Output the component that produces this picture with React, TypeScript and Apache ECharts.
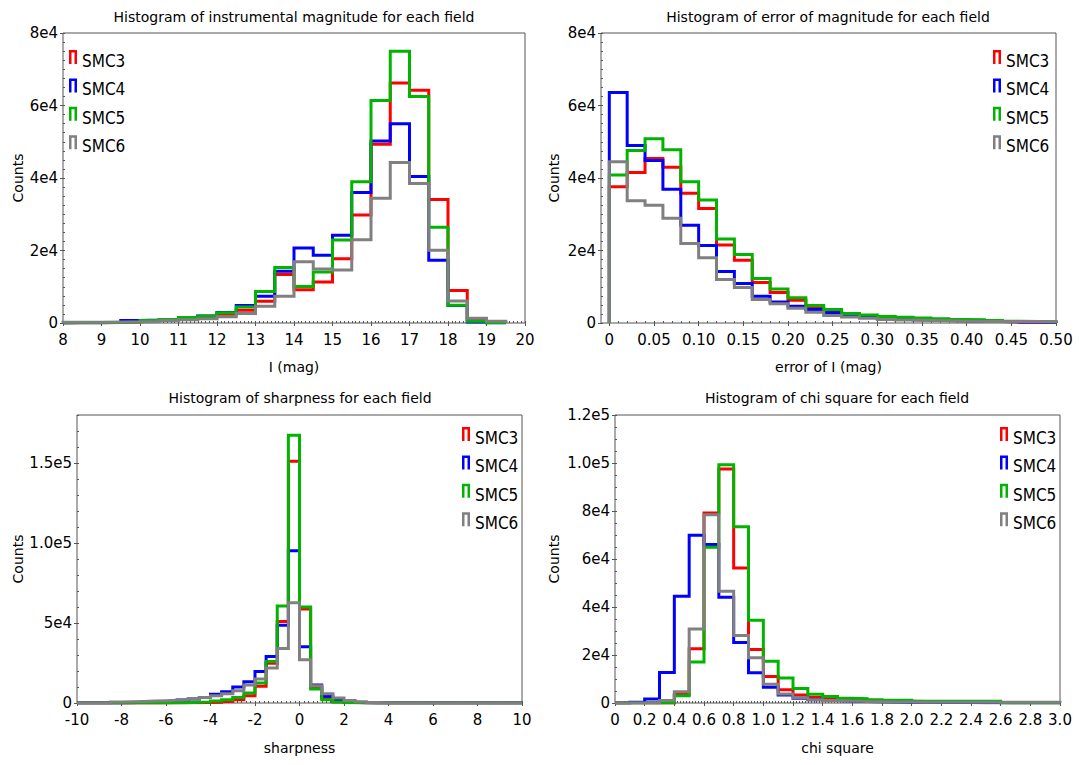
import React, { useEffect, useRef } from "react";
import * as echarts from "echarts";

// ---------- shared ----------
const SERIES_NAMES = ["SMC3", "SMC4", "SMC5", "SMC6"];
const SERIES_COLORS = ["#ff0000", "#0000ff", "#00b400", "#808080"];

// ---------- panel 1: instrumental magnitude ----------
const magBinStart = 8;
const magBinWidth = 0.5;
const magSMC3 = [100, 100, 150, 250, 500, 800, 1200, 1700, 2400, 3500, 6000, 13400, 9200, 11300, 17700, 29800, 49300, 66200, 64200, 34100, 9000, 1100, 200];
const magSMC4 = [100, 100, 200, 700, 800, 1000, 1400, 1900, 2900, 4800, 7400, 14300, 20700, 18700, 24200, 36000, 50200, 55000, 40400, 17300, 4800, 300, 100];
const magSMC5 = [100, 100, 150, 300, 700, 1000, 1500, 1900, 2800, 4400, 8700, 15300, 10100, 14100, 22900, 39000, 61400, 75000, 62500, 26400, 4900, 500, 0];
const magSMC6 = [200, 200, 250, 300, 400, 700, 900, 1200, 1700, 2600, 4600, 7400, 16900, 14900, 14600, 23000, 34400, 44300, 38500, 20100, 6100, 1300, 500];
const magXTicks = [8, 9, 10, 11, 12, 13, 14, 15, 16, 17, 18, 19, 20];
const magXLabels = ["8", "9", "10", "11", "12", "13", "14", "15", "16", "17", "18", "19", "20"];
const magYTicks = [0, 20000, 40000, 60000, 80000];
const magYLabels = ["0", "2e4", "4e4", "6e4", "8e4"];

// ---------- panel 2: error of magnitude ----------
const errBinStart = 0;
const errBinWidth = 0.02;
const errSMC3 = [37600, 41500, 45400, 43000, 35800, 31600, 21500, 17300, 11200, 8400, 6300, 4100, 2900, 2300, 1800, 1400, 1100, 900, 700, 600, 500, 400, 300, 300, 200];
const errSMC4 = [63600, 49000, 44800, 36900, 27000, 21400, 14200, 10900, 7400, 5800, 4600, 3700, 2800, 2100, 1700, 1400, 1100, 900, 700, 600, 500, 400, 300, 300, 200];
const errSMC5 = [40800, 47600, 50800, 47800, 39000, 33900, 23200, 18900, 12300, 9400, 7000, 4800, 3700, 2600, 2200, 1800, 1600, 1400, 1200, 1000, 900, 700, 500, 400, 300];
const errSMC6 = [44500, 33700, 32500, 28900, 21900, 18000, 12000, 9800, 6500, 5300, 4100, 3000, 2100, 1650, 1300, 1000, 800, 700, 600, 500, 400, 400, 400, 400, 400];
const errXTicks = [0, 0.05, 0.1, 0.15, 0.2, 0.25, 0.3, 0.35, 0.4, 0.45, 0.5];
const errXLabels = ["0", "0.05", "0.10", "0.15", "0.20", "0.25", "0.30", "0.35", "0.40", "0.45", "0.50"];
const errYTicks = [0, 20000, 40000, 60000, 80000];
const errYLabels = ["0", "2e4", "4e4", "6e4", "8e4"];

// ---------- panel 3: sharpness ----------
const shpBinStart = -10;
const shpBinWidth = 0.5;
const shpSMC3 = [0, 0, 0, 0, 0, 0, 0, 0, 100, 100, 200, 300, 500, 1000, 2100, 4600, 10400, 24900, 50900, 151100, 58800, 10000, 3000, 800, 300, 100, 0, 0, 0, 0, 0, 0, 0, 0, 0, 0, 0, 0, 0, 0];
const shpSMC4 = [0, 0, 0, 0, 200, 400, 600, 900, 1300, 1800, 2500, 3500, 5400, 7100, 10000, 13300, 19700, 29100, 48600, 95100, 35100, 11200, 4200, 1500, 500, 200, 0, 0, 0, 0, 0, 0, 0, 0, 0, 0, 0, 0, 0, 0];
const shpSMC5 = [0, 0, 0, 0, 0, 0, 0, 0, 0, 200, 400, 700, 1200, 2100, 3500, 6200, 12500, 26000, 60600, 167300, 60000, 8700, 2100, 700, 200, 0, 0, 0, 0, 0, 0, 0, 0, 0, 0, 0, 0, 0, 0, 0];
const shpSMC6 = [0, 0, 0, 600, 800, 1000, 1200, 1400, 1700, 2100, 2700, 3500, 4600, 5800, 7700, 11200, 15000, 21800, 34000, 62700, 27000, 10800, 5800, 3100, 1500, 800, 300, 0, 0, 0, 0, 0, 0, 0, 0, 0, 0, 0, 0, 0];
const shpXTicks = [-10, -8, -6, -4, -2, 0, 2, 4, 6, 8, 10];
const shpXLabels = ["-10", "-8", "-6", "-4", "-2", "0", "2", "4", "6", "8", "10"];
const shpYTicks = [0, 50000, 100000, 150000];
const shpYLabels = ["0", "5e4", "1.0e5", "1.5e5"];

// ---------- panel 4: chi square ----------
const chiBinStart = 0;
const chiBinWidth = 0.1;
const chiSMC3 = [0, 0, 0, 0, 3500, 22600, 79200, 97500, 56200, 22300, 11000, 5500, 3300, 2300, 1800, 1400, 1100, 900, 800, 700, 600, 500, 400, 300, 200, 200, 100, 100, 100, 100];
const chiSMC4 = [0, 300, 1700, 12700, 44500, 69900, 66000, 44100, 25200, 12600, 6600, 3300, 2000, 1400, 1000, 800, 600, 500, 400, 300, 300, 200, 200, 200, 100, 100, 100, 100, 100, 100];
const chiSMC5 = [0, 0, 0, 0, 3000, 17100, 64900, 99300, 73400, 34500, 17400, 10400, 6000, 3600, 2700, 2000, 1800, 1400, 1100, 1100, 700, 700, 700, 700, 700, 700, 0, 0, 0, 0];
const chiSMC6 = [0, 0, 0, 1000, 4700, 30800, 78400, 46600, 28100, 18900, 7800, 3700, 2200, 1400, 1000, 800, 600, 500, 400, 400, 300, 300, 300, 300, 300, 300, 300, 300, 300, 300];
const chiXTicks = [0, 0.2, 0.4, 0.6, 0.8, 1.0, 1.2, 1.4, 1.6, 1.8, 2.0, 2.2, 2.4, 2.6, 2.8, 3.0];
const chiXLabels = ["0", "0.2", "0.4", "0.6", "0.8", "1.0", "1.2", "1.4", "1.6", "1.8", "2.0", "2.2", "2.4", "2.6", "2.8", "3.0"];
const chiYTicks = [0, 20000, 40000, 60000, 80000, 100000, 120000];
const chiYLabels = ["0", "2e4", "4e4", "6e4", "8e4", "1.0e5", "1.2e5"];

// ---------- helpers ----------
function range(a: number, b: number, step: number): number[] {
  const n = Math.round((b - a) / step);
  const out: number[] = [];
  for (let i = 0; i <= n; i++) out.push(Number((a + i * step).toFixed(6)));
  return out;
}

function steps(start: number, width: number, counts: number[]): number[][] {
  const pts: number[][] = [[start, 0]];
  counts.forEach((c, i) => pts.push([Number((start + i * width).toFixed(6)), c]));
  pts.push([Number((start + counts.length * width).toFixed(6)), 0]);
  return pts;
}

function fmt(ticks: number[], labels: string[]) {
  return (v: number) => {
    for (let i = 0; i < ticks.length; i++) {
      if (Math.abs(ticks[i] - v) < 1e-6 * Math.max(1, Math.abs(v))) return labels[i];
    }
    return "";
  };
}

const FONT = "DejaVu Sans";
const AXIS_COLOR = "#555555";

type Panel = {
  grid: { left: number; top: number; width: number; height: number };
  xMin: number; xMax: number; yMax: number;
  xTicks: number[]; xLabels: string[]; xMinor: number[];
  yTicks: number[]; yLabels: string[]; yMinor: number[];
  xName: string; xNameGap: number; yNameGap: number;
  binStart: number; binWidth: number; series: number[][];
  title: string; titleX: number; titleY: number;
  legendLeft: number; legendTop: number;
};

const panels: Panel[] = [
  {
    grid: { left: 63, top: 33, width: 462, height: 290 },
    xMin: 8, xMax: 20, yMax: 80000,
    xTicks: magXTicks, xLabels: magXLabels, xMinor: range(8, 20, 0.1),
    yTicks: magYTicks, yLabels: magYLabels, yMinor: range(0, 80000, 2500),
    xName: "I (mag)", xNameGap: 37, yNameGap: 38,
    binStart: magBinStart, binWidth: magBinWidth, series: [magSMC3, magSMC4, magSMC5, magSMC6],
    title: "Histogram of instrumental magnitude for each field", titleX: 294, titleY: 17,
    legendLeft: 69, legendTop: 50,
  },
  {
    grid: { left: 601, top: 33, width: 455, height: 290 },
    xMin: -0.0093, xMax: 0.5, yMax: 80000,
    xTicks: errXTicks, xLabels: errXLabels, xMinor: range(0, 0.5, 0.01),
    yTicks: errYTicks, yLabels: errYLabels, yMinor: range(0, 80000, 2500),
    xName: "error of I (mag)", xNameGap: 37, yNameGap: 40,
    binStart: errBinStart, binWidth: errBinWidth, series: [errSMC3, errSMC4, errSMC5, errSMC6],
    title: "Histogram of error of magnitude for each field", titleX: 828, titleY: 17,
    legendLeft: 993, legendTop: 50,
  },
  {
    grid: { left: 77, top: 415, width: 445, height: 288 },
    xMin: -10, xMax: 10, yMax: 180000,
    xTicks: shpXTicks, xLabels: shpXLabels, xMinor: range(-10, 10, 0.2),
    yTicks: shpYTicks, yLabels: shpYLabels, yMinor: range(0, 180000, 10000),
    xName: "sharpness", xNameGap: 38, yNameGap: 52,
    binStart: shpBinStart, binWidth: shpBinWidth, series: [shpSMC3, shpSMC4, shpSMC5, shpSMC6],
    title: "Histogram of sharpness for each field", titleX: 300, titleY: 398,
    legendLeft: 462, legendTop: 427,
  },
  {
    grid: { left: 615, top: 415, width: 445, height: 288 },
    xMin: 0, xMax: 3, yMax: 120000,
    xTicks: chiXTicks, xLabels: chiXLabels, xMinor: range(0, 3, 0.02),
    yTicks: chiYTicks, yLabels: chiYLabels, yMinor: range(0, 120000, 5000),
    xName: "chi square", xNameGap: 38, yNameGap: 54,
    binStart: chiBinStart, binWidth: chiBinWidth, series: [chiSMC3, chiSMC4, chiSMC5, chiSMC6],
    title: "Histogram of chi square for each field", titleX: 837, titleY: 398,
    legendLeft: 1000, legendTop: 427,
  },
];

const LEGEND_ICON = "path://M0,0 H8 V14 H5.5 V2.5 H2.5 V14 H0 Z M0,22 H0.01 V21.99 Z";

function buildOption() {
  const grid: any[] = [];
  const xAxis: any[] = [];
  const yAxis: any[] = [];
  const series: any[] = [];
  const legend: any[] = [];
  const graphic: any[] = [];

  panels.forEach((p, k) => {
    grid.push({
      ...p.grid,
      show: true,
      borderColor: AXIS_COLOR,
      borderWidth: 1,
      backgroundColor: "transparent",
      containLabel: false,
    });
    const labelStyle = { color: "#000", fontSize: 15, fontFamily: FONT };
    const nameStyle = { color: "#000", fontSize: 14, fontFamily: FONT };
    const noLine = { show: false, onZero: false };
    xAxis.push({
      type: "value", gridIndex: k, min: p.xMin, max: p.xMax, position: "bottom",
      axisLine: noLine, splitLine: { show: false },
      axisTick: { show: true, inside: false, length: 3, lineStyle: { color: AXIS_COLOR }, customValues: p.xTicks },
      axisLabel: { show: true, margin: 9, ...labelStyle, customValues: p.xTicks, formatter: fmt(p.xTicks, p.xLabels) },
      name: p.xName, nameLocation: "middle", nameGap: p.xNameGap, nameTextStyle: nameStyle,
    });
    xAxis.push({
      type: "value", gridIndex: k, min: p.xMin, max: p.xMax, position: "bottom",
      axisLine: noLine, splitLine: { show: false }, axisLabel: { show: false },
      axisTick: { show: true, inside: true, length: 2, lineStyle: { color: AXIS_COLOR }, customValues: p.xMinor },
    });
    yAxis.push({
      type: "value", gridIndex: k, min: 0, max: p.yMax, position: "left",
      axisLine: noLine, splitLine: { show: false },
      axisTick: { show: true, inside: false, length: 3, lineStyle: { color: AXIS_COLOR }, customValues: p.yTicks },
      axisLabel: { show: true, margin: 5, ...labelStyle, customValues: p.yTicks, formatter: fmt(p.yTicks, p.yLabels) },
      name: "Counts", nameLocation: "middle", nameGap: p.yNameGap, nameRotate: 90, nameTextStyle: nameStyle,
    });
    yAxis.push({
      type: "value", gridIndex: k, min: 0, max: p.yMax, position: "left",
      axisLine: noLine, splitLine: { show: false }, axisLabel: { show: false },
      axisTick: { show: true, inside: true, length: 2, lineStyle: { color: AXIS_COLOR }, customValues: p.yMinor },
    });

    p.series.forEach((counts, j) => {
      series.push({
        type: "line",
        name: SERIES_NAMES[j],
        xAxisIndex: 2 * k,
        yAxisIndex: 2 * k,
        step: "end",
        symbol: "none",
        showSymbol: false,
        silent: true,
        color: SERIES_COLORS[j],
        itemStyle: { color: SERIES_COLORS[j] },
        lineStyle: { width: 3, color: SERIES_COLORS[j], join: "miter", cap: "butt" },
        z: 3 + j,
        data: steps(p.binStart, p.binWidth, counts),
      });
    });

    legend.push({
      show: true,
      orient: "vertical",
      left: p.legendLeft,
      top: p.legendTop,
      padding: 0,
      itemGap: 6.4,
      itemWidth: 8,
      itemHeight: 22,
      icon: LEGEND_ICON,
      selectedMode: false,
      itemStyle: { borderWidth: 0 },
      textStyle: { color: "#000", fontSize: 17, fontFamily: "'DejaVu Sans Condensed', 'Liberation Sans Narrow', 'DejaVu Sans'" },
      data: SERIES_NAMES,
    });

    graphic.push({
      type: "text",
      x: p.titleX,
      y: p.titleY,
      style: {
        text: p.title,
        fill: "#000",
        fontSize: 14,
        fontFamily: FONT,
        textAlign: "center",
        textVerticalAlign: "middle",
      },
    });
  });

  return {
    animation: false,
    backgroundColor: "#ffffff",
    grid,
    xAxis,
    yAxis,
    series,
    legend,
    graphic,
  };
}

export default function App() {
  const ref = useRef<HTMLDivElement>(null);
  useEffect(() => {
    document.body.style.margin = "0";
    if (!ref.current) return;
    const chart = echarts.init(ref.current, null, { renderer: "svg" });
    chart.setOption(buildOption() as any);
    return () => chart.dispose();
  }, []);
  return <div ref={ref} style={{ width: 1079, height: 765 }} />;
}
